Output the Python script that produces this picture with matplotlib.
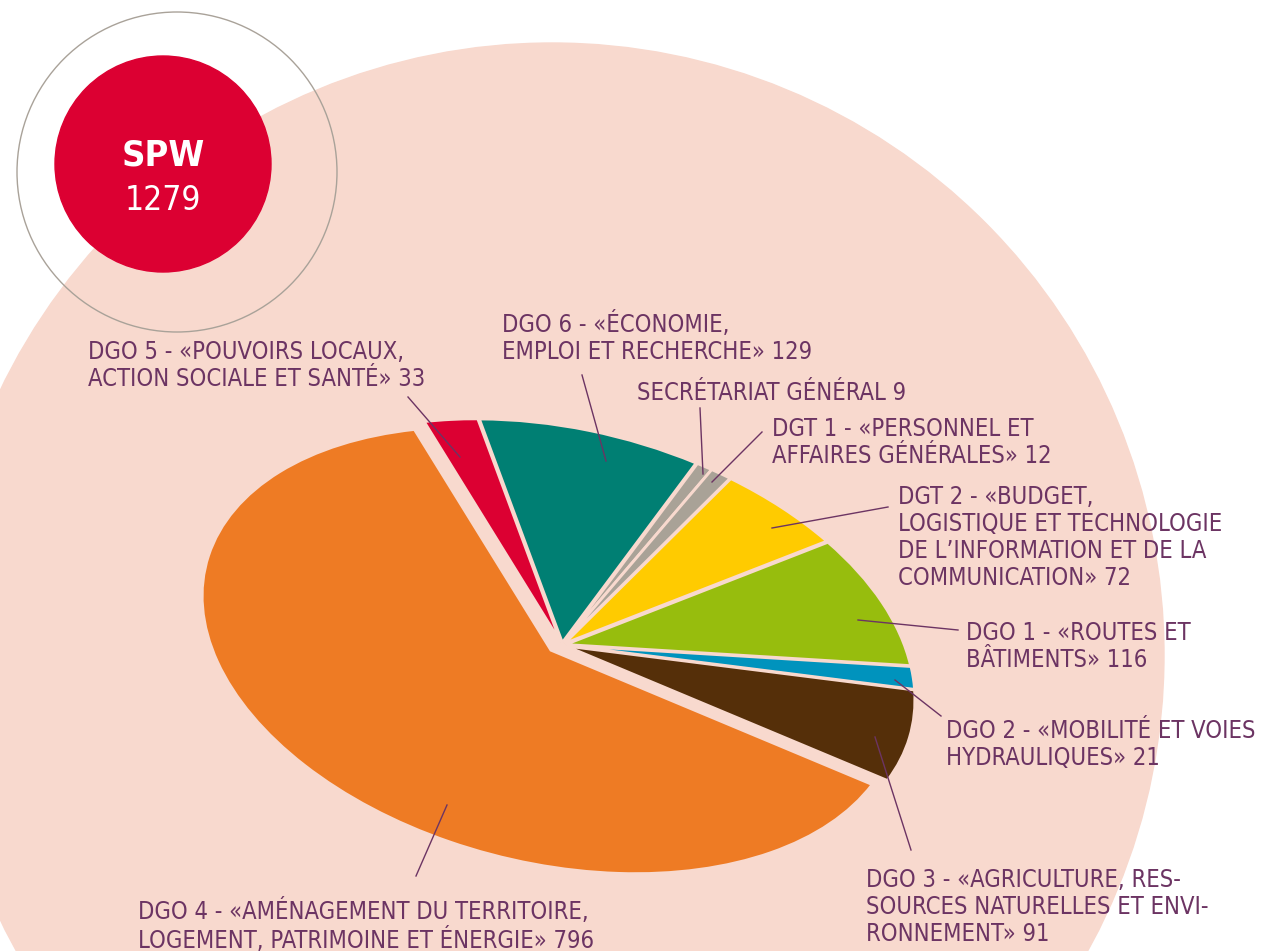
import matplotlib
matplotlib.use("Agg")
import matplotlib.pyplot as plt
from matplotlib.patches import Circle
from matplotlib.transforms import Affine2D

# staff per directorate, clockwise from the top of the pie
names = [
    "DGO 5 - «POUVOIRS LOCAUX,\nACTION SOCIALE ET SANTÉ»",
    "DGO 6 - «ÉCONOMIE,\nEMPLOI ET RECHERCHE»",
    "SECRÉTARIAT GÉNÉRAL",
    "DGT 1 - «PERSONNEL ET\nAFFAIRES GÉNÉRALES»",
    "DGT 2 - «BUDGET,\nLOGISTIQUE ET TECHNOLOGIE\nDE L’INFORMATION ET DE LA\nCOMMUNICATION»",
    "DGO 1 - «ROUTES ET\nBÂTIMENTS»",
    "DGO 2 - «MOBILITÉ ET VOIES\nHYDRAULIQUES»",
    "DGO 3 - «AGRICULTURE, RES-\nSOURCES NATURELLES ET ENVI-\nRONNEMENT»",
    "DGO 4 - «AMÉNAGEMENT DU TERRITOIRE,\nLOGEMENT, PATRIMOINE ET ÉNERGIE»",
]
values = [33, 129, 9, 12, 72, 116, 21, 91, 796]
colors = ["#DC0032", "#007F73", "#A9A297", "#A9A297", "#FFCB00",
          "#97BD0D", "#0093BD", "#552F09", "#EE7B24"]
total_label = "SPW"
total = sum(values)

# label layout (image pixels): text top-left, leader line from / to
label_xy = [(88, 340), (502, 311), (637, 381), (772, 417), (898, 485),
            (966, 621), (946, 719), (866, 868), (138, 898)]
leaders = [((408, 397), (460, 457)), ((582, 375), (606, 461)),
           ((700, 408), (703, 474)), ((762, 432), (712, 482)),
           ((888, 507), (772, 528)), ((958, 630), (858, 620)),
           ((941, 716), (895, 680)), ((911, 850), (875, 737)),
           ((416, 876), (447, 805))]

pink = "#F8D9CE"
txt_col = "#6C3463"

fig = plt.figure(figsize=(12.61, 9.51), dpi=100)
ax = fig.add_axes([0, 0, 1, 1])

ax.add_patch(Circle((552, 655), 612, color=pink, zorder=0))
ax.add_patch(Circle((177, 172), 160, fill=False, edgecolor="#A9A299", lw=1.0, zorder=1))
ax.add_patch(Circle((163, 164), 108, color="#DC0032", zorder=2))
ax.text(163, 156, total_label, color="white", fontsize=26, fontweight="bold",
        fontstretch="condensed", ha="center", va="center", zorder=3)
ax.text(163, 200, str(total), color="white", fontsize=24,
        fontstretch="condensed", ha="center", va="center", zorder=3)

explode = [0.012] * (len(values) - 1) + [0.045]
wedges, _ = ax.pie(values, colors=colors, startangle=118, counterclock=False,
                   explode=explode,
                   wedgeprops=dict(edgecolor=pink, linewidth=2.0))

# flatten, tilt and lean the pie into the ellipse of the original
tr = (Affine2D().scale(350, 216).rotate_deg(-12).skew_deg(-4, 0)
      .scale(1, -1).translate(562, 645))
for w in wedges:
    w.set_transform(tr + ax.transData)
    w.set_zorder(4)

for name, v, (x, y), (p0, p1) in zip(names, values, label_xy, leaders):
    ax.text(x, y, "%s %d" % (name, v), color=txt_col, fontsize=17,
            fontstretch="condensed", ha="left", va="top", linespacing=1.16,
            zorder=6)
    ax.plot([p0[0], p1[0]], [p0[1], p1[1]], color=txt_col, lw=1.0, zorder=5)

ax.set_xlim(0, 1261)
ax.set_ylim(951, 0)
ax.set_aspect("auto")
ax.axis("off")

fig.savefig("out.png", dpi=100, facecolor="white")
